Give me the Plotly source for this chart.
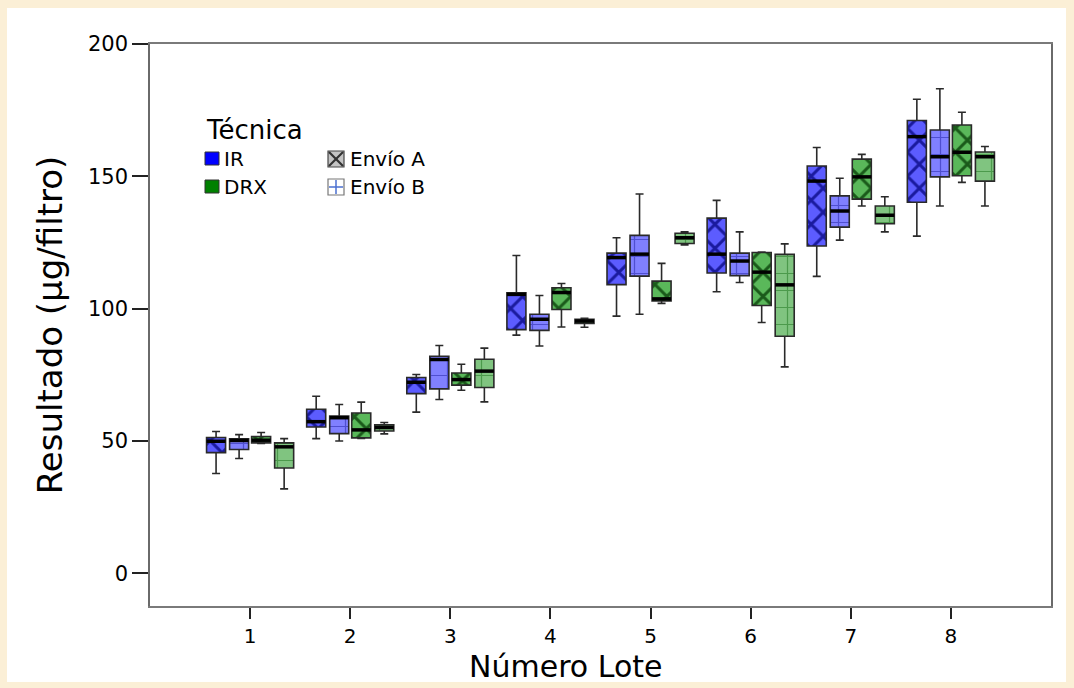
import plotly.graph_objects as go

# ---------------- data ----------------
lots = [1, 2, 3, 4, 5, 6, 7, 8]
tick_labels = ["1", "2", "3", "4", "5", "6", "7", "8"]

ir_a_low = [37.7, 50.9, 60.9, 90.0, 97.2, 106.4, 112.2, 127.4]
ir_a_q1 = [45.6, 55.3, 67.9, 92.1, 109.1, 113.5, 123.7, 140.2]
ir_a_med = [49.9, 57.3, 72.2, 105.4, 119.3, 120.6, 148.2, 165.0]
ir_a_q3 = [51.3, 62.0, 74.0, 106.0, 121.0, 134.2, 153.9, 171.1]
ir_a_up = [53.6, 66.9, 75.1, 120.1, 126.8, 140.9, 160.9, 179.1]

ir_b_low = [43.4, 50.0, 65.7, 85.9, 97.9, 109.9, 125.9, 138.8]
ir_b_q1 = [46.8, 52.8, 69.7, 91.8, 112.3, 112.5, 130.8, 149.8]
ir_b_med = [50.2, 58.8, 80.8, 96.0, 120.6, 118.0, 136.9, 157.4]
ir_b_q3 = [50.8, 59.4, 82.0, 97.9, 127.7, 121.0, 142.6, 167.5]
ir_b_up = [52.4, 63.8, 86.1, 105.0, 143.3, 129.0, 149.3, 183.1]

drx_a_low = [49.1, 51.0, 69.2, 93.1, 102.0, 94.8, 138.8, 147.7]
drx_a_q1 = [49.3, 51.2, 71.1, 99.7, 102.9, 101.2, 141.4, 150.2]
drx_a_med = [50.3, 54.2, 73.2, 106.1, 103.7, 113.8, 149.8, 159.1]
drx_a_q3 = [51.7, 60.6, 75.7, 107.9, 110.4, 121.2, 156.5, 169.4]
drx_a_up = [53.2, 64.7, 79.0, 109.5, 117.1, 121.4, 158.3, 174.2]

drx_b_low = [31.9, 52.7, 64.8, 93.0, 124.1, 78.0, 129.0, 138.8]
drx_b_q1 = [39.8, 53.8, 70.2, 94.4, 124.6, 89.6, 132.1, 148.2]
drx_b_med = [47.8, 55.1, 76.4, 95.3, 126.8, 109.0, 135.3, 157.4]
drx_b_q3 = [49.3, 56.1, 80.9, 96.0, 128.5, 120.5, 138.8, 159.2]
drx_b_up = [50.9, 57.0, 85.1, 96.4, 129.0, 124.5, 142.3, 161.3]

# ---------------- layout constants ----------------
W_PX, H_PX = 1074, 688
ML, MR, MT, MB = 150, 23, 44, 82
PW = W_PX - ML - MR
PH = H_PX - MT - MB
FONT = "DejaVu Sans"


def px_x(p):
    return (p - ML) / PW


def px_y(p):
    return (H_PX - MB - p) / PH


BOX_W = 0.19
series = [
    dict(name="IR - Envío A", off=-0.34, low=ir_a_low, q1=ir_a_q1, med=ir_a_med, q3=ir_a_q3, up=ir_a_up,
         bg="#5c5cff", fg="#1a1a9e", shape="x", size=17, sol=0.32),
    dict(name="IR - Envío B", off=-0.11, low=ir_b_low, q1=ir_b_q1, med=ir_b_med, q3=ir_b_q3, up=ir_b_up,
         bg="#8080ff", fg="#4f4fd0", shape="+", size=17, sol=0.14),
    dict(name="DRX - Envío A", off=0.11, low=drx_a_low, q1=drx_a_q1, med=drx_a_med, q3=drx_a_q3, up=drx_a_up,
         bg="#5ab85a", fg="#1a5a1a", shape="x", size=17, sol=0.32),
    dict(name="DRX - Envío B", off=0.34, low=drx_b_low, q1=drx_b_q1, med=drx_b_med, q3=drx_b_q3, up=drx_b_up,
         bg="#80c480", fg="#4c9a4c", shape="+", size=17, sol=0.14),
]

fig = go.Figure()

for s in series:
    xs = [l + s["off"] for l in lots]
    # patterned box body
    fig.add_trace(go.Bar(
        x=xs, y=[b - a for a, b in zip(s["q1"], s["q3"])], base=s["q1"], width=BOX_W,
        marker=dict(color=s["bg"], line=dict(width=0),
                    pattern=dict(shape=s["shape"], size=s["size"], solidity=s["sol"],
                                 fgcolor=s["fg"], bgcolor=s["bg"], fillmode="replace")),
        showlegend=False, hoverinfo="skip", name=s["name"]))
    # outline + whiskers
    fig.add_trace(go.Box(
        x=xs, q1=s["q1"], median=s["med"], q3=s["q3"], lowerfence=s["low"], upperfence=s["up"],
        width=BOX_W, whiskerwidth=0.42, fillcolor="rgba(0,0,0,0)", boxpoints=False,
        line=dict(color="#2a2a2a", width=1.6), showlegend=False, name=s["name"]))
    # thick median
    mx, my = [], []
    for x, m in zip(xs, s["med"]):
        mx += [x - BOX_W / 2, x + BOX_W / 2, None]
        my += [m, m, None]
    fig.add_trace(go.Scatter(x=mx, y=my, mode="lines", line=dict(color="black", width=3.5),
                             showlegend=False, hoverinfo="skip"))

shapes = []
# white panel over beige background
shapes.append(dict(type="rect", xref="paper", yref="paper", layer="below",
                   x0=px_x(7), x1=px_x(1066), y0=px_y(682), y1=px_y(8),
                   fillcolor="white", line=dict(width=0)))


def rect(x0, y0, x1, y1, fill, line="#333333", lw=1):
    shapes.append(dict(type="rect", xref="paper", yref="paper",
                       x0=px_x(x0), x1=px_x(x1), y0=px_y(y1), y1=px_y(y0),
                       fillcolor=fill, line=dict(color=line, width=lw)))


def seg(x0, y0, x1, y1, color, lw):
    shapes.append(dict(type="line", xref="paper", yref="paper",
                       x0=px_x(x0), x1=px_x(x1), y0=px_y(y0), y1=px_y(y1),
                       line=dict(color=color, width=lw)))


# legend swatches
rect(205, 152, 219, 165, "#0000ff")
rect(205, 180, 219, 193, "#008000")
rect(328, 151, 344, 167, "#c4c4c4", "#444444", 1.2)
seg(329, 152, 343, 166, "#333333", 2.2)
seg(329, 166, 343, 152, "#333333", 2.2)
rect(328, 179, 344, 195, "white", "#777777", 1.2)
seg(336, 180, 336, 194, "#4a6fd0", 1.5)
seg(329, 187, 343, 187, "#4a6fd0", 1.5)

annotations = [
    dict(text="Técnica", x=px_x(204), y=px_y(130), xanchor="left", yanchor="middle",
         font=dict(size=26, color="black", family=FONT)),
    dict(text="IR", x=px_x(222), y=px_y(159), xanchor="left", yanchor="middle",
         font=dict(size=20, color="black", family=FONT)),
    dict(text="DRX", x=px_x(222), y=px_y(187), xanchor="left", yanchor="middle",
         font=dict(size=20, color="black", family=FONT)),
    dict(text="Envío A", x=px_x(348), y=px_y(159), xanchor="left", yanchor="middle",
         font=dict(size=20, color="black", family=FONT)),
    dict(text="Envío B", x=px_x(348), y=px_y(187), xanchor="left", yanchor="middle",
         font=dict(size=20, color="black", family=FONT)),
    dict(text="Número Lote", x=px_x(565), y=px_y(666), xanchor="center", yanchor="middle",
         font=dict(size=30, color="black", family=FONT)),
]
for a in annotations:
    a.update(xref="paper", yref="paper", showarrow=False)

fig.update_layout(
    width=W_PX, height=H_PX,
    margin=dict(l=ML, r=MR, t=MT, b=MB),
    paper_bgcolor="#fbefd6", plot_bgcolor="white",
    barmode="overlay", boxmode="overlay",
    font=dict(family=FONT, color="black"),
    showlegend=False,
    shapes=shapes, annotations=annotations,
    xaxis=dict(range=[0, 9], tickvals=lots, ticktext=tick_labels, showgrid=False, zeroline=False,
               ticks="outside", ticklen=11, tickwidth=1.6, tickcolor="#222",
               showline=True, mirror=True, linecolor="#7a7a7a", linewidth=1.5,
               tickfont=dict(size=20, family=FONT, color="black")),
    yaxis=dict(range=[-12.34, 200], tickvals=[0, 50, 100, 150, 200], showgrid=False, zeroline=False,
               ticks="outside", ticklen=16, tickwidth=2, tickcolor="#222",
               showline=True, mirror=True, linecolor="#6a6a6a", linewidth=1.5,
               tickfont=dict(size=21, family=FONT, color="black"),
               title=dict(text="Resultado (µg/filtro)", standoff=15,
                          font=dict(size=34, family=FONT, color="black"))),
)

fig.write_html(
    "out.html",
    config={"displayModeBar": False},
    post_script="document.body.style.margin='0';document.body.style.padding='0';"
                "document.documentElement.style.overflow='hidden';",
)
